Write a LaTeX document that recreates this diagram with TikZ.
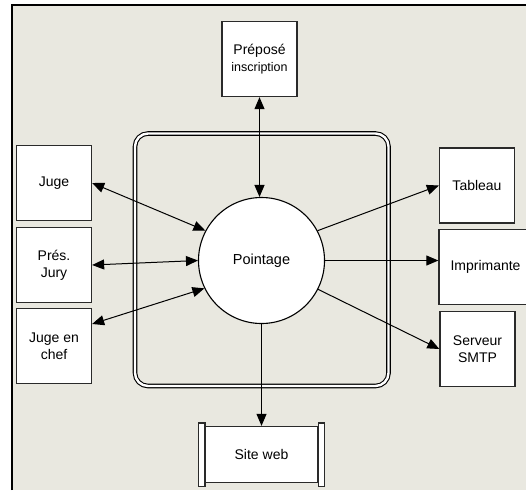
\documentclass[tikz,border=0pt]{standalone}
\usepackage{fontspec}
\setmainfont{Liberation Sans}
\usetikzlibrary{arrows.meta,calc}
\definecolor{bgc}{HTML}{E9E8E0}
\definecolor{edge}{HTML}{2A2A2A}
\tikzset{
  ext/.style={draw=edge, line width=1.3pt, fill=white, minimum width=75pt, minimum height=75pt,
    inner sep=1pt, align=center, font=\fontsize{14}{17}\selectfont},
  proc/.style={circle, draw=black, line width=1.1pt, fill=white, minimum size=126pt,
    font=\fontsize{14.5}{17}\selectfont},
  flow/.style={line width=1pt, -{Triangle[length=12pt,width=10pt]}},
  biflow/.style={line width=1pt, {Triangle[length=12pt,width=10pt]}-{Triangle[length=12pt,width=10pt]}},
}
\begin{document}
\begin{tikzpicture}[x=1pt,y=-1pt]
\useasboundingbox (0,0) rectangle (526,491);
\fill[white] (0,0) rectangle (526,491);
\fill[bgc] (12,5) rectangle (530,490);
\draw[line width=1.6pt, black] (12,490) -- (12,5) -- (530,5);
% boundary
\draw[line width=1.1pt, double=white, double distance=2.4pt, rounded corners=13pt]
  (135,133.5) rectangle (388.5,386);
% nodes
\node[proc] (pt) at (261.5,260.5) {Pointage};
\node[ext] (prep) at (259.5,59) {Préposé\\{\fontsize{12.5}{15}\selectfont inscription}};
\node[ext] (juge) at (54,183) {Juge};
\node[ext] (pj) at (54,265) {Prés.\\Jury};
\node[ext] (jec) at (54,346) {Juge en\\chef};
\node[ext] (tab) at (477,185.5) {Tableau};
\node[ext, minimum width=93pt] (imp) at (485.5,267) {Imprimante};
\node[ext] (srv) at (477.5,349) {Serveur\\SMTP};
\node[ext, minimum width=112pt, minimum height=56pt] (sw) at (261.5,454.5) {Site web};
\draw[draw=edge, line width=1.3pt, fill=white] ([xshift=-6.5pt,yshift=3pt]sw.north west) rectangle ([yshift=-3pt]sw.south west);
\draw[draw=edge, line width=1.3pt, fill=white] ([yshift=3pt]sw.north east) rectangle ([xshift=6.5pt,yshift=-3pt]sw.south east);
% connectors
\draw[biflow] (prep.south) -- (prep.south |- pt.north);
\draw[biflow] (juge.east) -- (pt.152);
\draw[biflow] (pj.east) -- (pt.west);
\draw[biflow] (jec.30) -- (pt.206);
\draw[flow] (pt.28) -- (tab.west);
\draw[flow] (pt.east) -- (pt.east -| imp.west);
\draw[flow] (pt.-27) -- (srv.west);
\draw[flow] (pt.south) -- (pt.south |- sw.north);
\end{tikzpicture}
\end{document}
